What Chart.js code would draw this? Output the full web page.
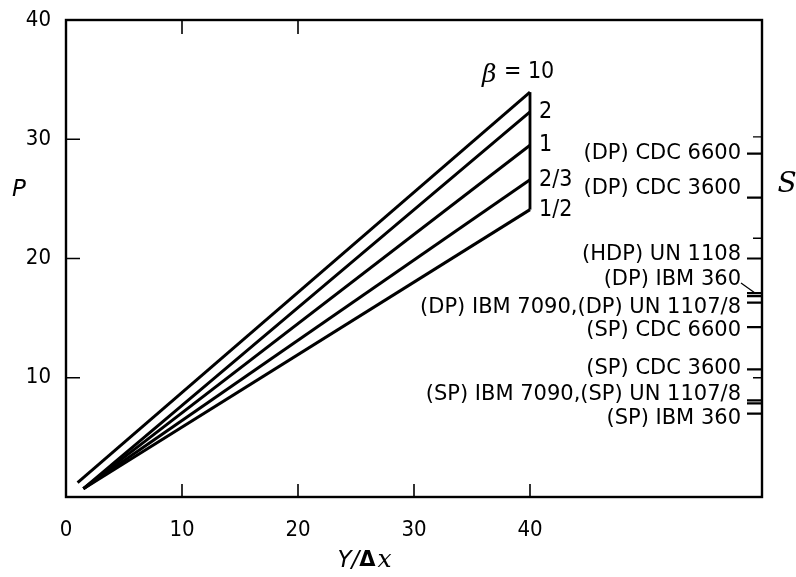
<!DOCTYPE html>
<html>
<head>
<meta charset="utf-8">
<script src="https://cdn.jsdelivr.net/npm/chart.js@4.4.1/dist/chart.umd.min.js"></script>
<style>
  html, body { margin: 0; padding: 0; background: #fff; }
  #wrap { width: 796px; height: 577px; }
</style>
</head>
<body>
<div id="wrap"><canvas id="chart"></canvas></div>
<script>
// curves P(Y/dx) for each beta
const betaLabels = ['10', '2', '1', '2/3', '1/2'];
const startX = [1.0, 1.5, 1.5, 1.5, 1.5];
const startP = [1.2, 0.7, 0.7, 0.7, 0.7];
const endX = 40;
const endP = [33.95, 32.3, 29.5, 26.6, 24.1];

// axis ticks
const xTicks = [0, 10, 20, 30, 40];
const yTicks = [10, 20, 30, 40];
const topTicks = [10, 20];

// right hand S scale (machines)
const machines = [
  '(DP) CDC 6600', '(DP) CDC 3600', '(HDP) UN 1108', '(DP) IBM 360',
  '(DP) IBM 7090,(DP) UN 1107/8', '(SP) CDC 6600', '(SP) CDC 3600',
  '(SP) IBM 7090,(SP) UN 1107/8', '(SP) IBM 360'
];
const machineLabelP = [28.8, 25.9, 20.3, 18.2, 15.9, 14.0, 10.8, 8.55, 6.6];
const machineTicks = [[28.8], [25.1], [20.0], [17.1], [16.85, 16.3], [14.25], [10.7], [8.1, 7.85], [7.0]];
const minorS = [30.2, 21.7, 10.0];

const FONT = "'DejaVu Sans', sans-serif";
const COND = "'DejaVu Sans Condensed', 'DejaVu Sans', sans-serif";

const datasets = betaLabels.map((b, i) => ({
  label: b,
  data: [{ x: startX[i], y: startP[i] }, { x: endX, y: endP[i] }],
  borderColor: '#000',
  borderWidth: 3,
  pointRadius: 0,
  fill: false
}));
datasets.push({
  label: 'edge',
  data: [{ x: endX, y: Math.min(...endP) }, { x: endX, y: Math.max(...endP) }],
  borderColor: '#000',
  borderWidth: 2.8,
  pointRadius: 0,
  fill: false
});

const decor = {
  id: 'decor',
  afterDatasetsDraw(chart) {
    const { ctx, chartArea: a, scales: { x, y } } = chart;
    ctx.save();
    ctx.strokeStyle = '#000';
    ctx.fillStyle = '#000';

    // frame
    ctx.lineWidth = 2.4;
    ctx.strokeRect(a.left, a.top, a.right - a.left, a.bottom - a.top);

    // inward ticks
    ctx.lineWidth = 1.6;
    ctx.beginPath();
    xTicks.slice(1).forEach(v => {
      const px = x.getPixelForValue(v);
      ctx.moveTo(px, a.bottom); ctx.lineTo(px, a.bottom - 13);
    });
    topTicks.forEach(v => {
      const px = x.getPixelForValue(v);
      ctx.moveTo(px, a.top); ctx.lineTo(px, a.top + 14);
    });
    yTicks.slice(0, 3).forEach(v => {
      const py = y.getPixelForValue(v);
      ctx.moveTo(a.left, py); ctx.lineTo(a.left + 14, py);
    });
    ctx.stroke();

    // S scale ticks
    ctx.lineWidth = 2.2;
    ctx.beginPath();
    machineTicks.flat().forEach(v => {
      const py = y.getPixelForValue(v);
      ctx.moveTo(a.right, py); ctx.lineTo(a.right - 15, py);
    });
    ctx.stroke();
    ctx.lineWidth = 1.3;
    ctx.beginPath();
    minorS.forEach(v => {
      const py = y.getPixelForValue(v);
      ctx.moveTo(a.right, py); ctx.lineTo(a.right - 9, py);
    });
    ctx.stroke();

    // machine labels
    ctx.font = '21px ' + FONT;
    ctx.textAlign = 'right';
    ctx.textBaseline = 'middle';
    machines.forEach((m, i) => {
      ctx.fillText(m, a.right - 21, y.getPixelForValue(machineLabelP[i]));
    });
    // leader for (DP) IBM 360
    ctx.lineWidth = 1.2;
    ctx.beginPath();
    ctx.moveTo(a.right - 21, y.getPixelForValue(machineLabelP[3]) + 3);
    ctx.lineTo(a.right - 7, y.getPixelForValue(machineTicks[3][0]));
    ctx.stroke();

    // beta labels
    const ex = x.getPixelForValue(endX);
    ctx.textAlign = 'left';
    ctx.font = '23px ' + COND;
    betaLabels.forEach((b, i) => {
      if (i === 0) return;
      ctx.fillText(b, ex + 9, y.getPixelForValue(endP[i]));
    });
    const topY = y.getPixelForValue(endP[0]) - 20;
    ctx.font = 'italic 25px ' + "'DejaVu Serif', serif";
    ctx.fillText('\u03b2', ex - 48, topY + 3);
    ctx.font = '23px ' + COND;
    ctx.fillText('= ' + betaLabels[0], ex - 26, topY);

    // axis names
    ctx.textAlign = 'center';
    ctx.font = 'italic 23px ' + FONT;
    ctx.fillText('P', 19, y.getPixelForValue(25.7));
    ctx.font = 'italic 28px ' + "'DejaVu Serif', serif";
    ctx.fillText('S', a.right + 25, y.getPixelForValue(26.2));

    const tx = x.getPixelForValue(23.4), ty = a.bottom + 64;
    ctx.textAlign = 'left';
    ctx.font = 'italic 23px ' + FONT;
    ctx.fillText('Y/', tx, ty);
    let w = ctx.measureText('Y/').width;
    ctx.font = 'bold 21px ' + FONT;
    ctx.fillText('\u0394', tx + w, ty);
    w += ctx.measureText('\u0394').width + 2;
    ctx.font = 'italic 25px ' + "'DejaVu Serif', serif";
    ctx.fillText('x', tx + w, ty - 1);
    ctx.restore();
  }
};

new Chart(document.getElementById('chart'), {
  type: 'line',
  data: { datasets },
  options: {
    responsive: true,
    maintainAspectRatio: false,
    animation: false,
    layout: { padding: { top: 20, right: 34, left: 0, bottom: 0 } },
    plugins: { legend: { display: false }, tooltip: { enabled: false } },
    scales: {
      x: {
        type: 'linear',
        min: 0,
        max: 60,
        grid: { display: false, drawTicks: false },
        border: { display: false },
        afterBuildTicks: s => { s.ticks = xTicks.map(v => ({ value: v })); },
        ticks: {
          autoSkip: false,
          maxRotation: 0,
          padding: 20,
          color: '#000',
          font: { family: COND, size: 22 }
        },
        afterFit: s => { s.height = 80; s.paddingLeft = 0; s.paddingRight = 0; }
      },
      y: {
        type: 'linear',
        min: 0,
        max: 40,
        grid: { display: false, drawTicks: false },
        border: { display: false },
        afterBuildTicks: s => { s.ticks = yTicks.map(v => ({ value: v })); },
        ticks: {
          padding: 15,
          color: '#000',
          font: { family: COND, size: 22 }
        },
        afterFit: s => { s.width = 66; s.paddingTop = 0; s.paddingBottom = 0; }
      }
    }
  },
  plugins: [decor]
});
</script>
</body>
</html>
